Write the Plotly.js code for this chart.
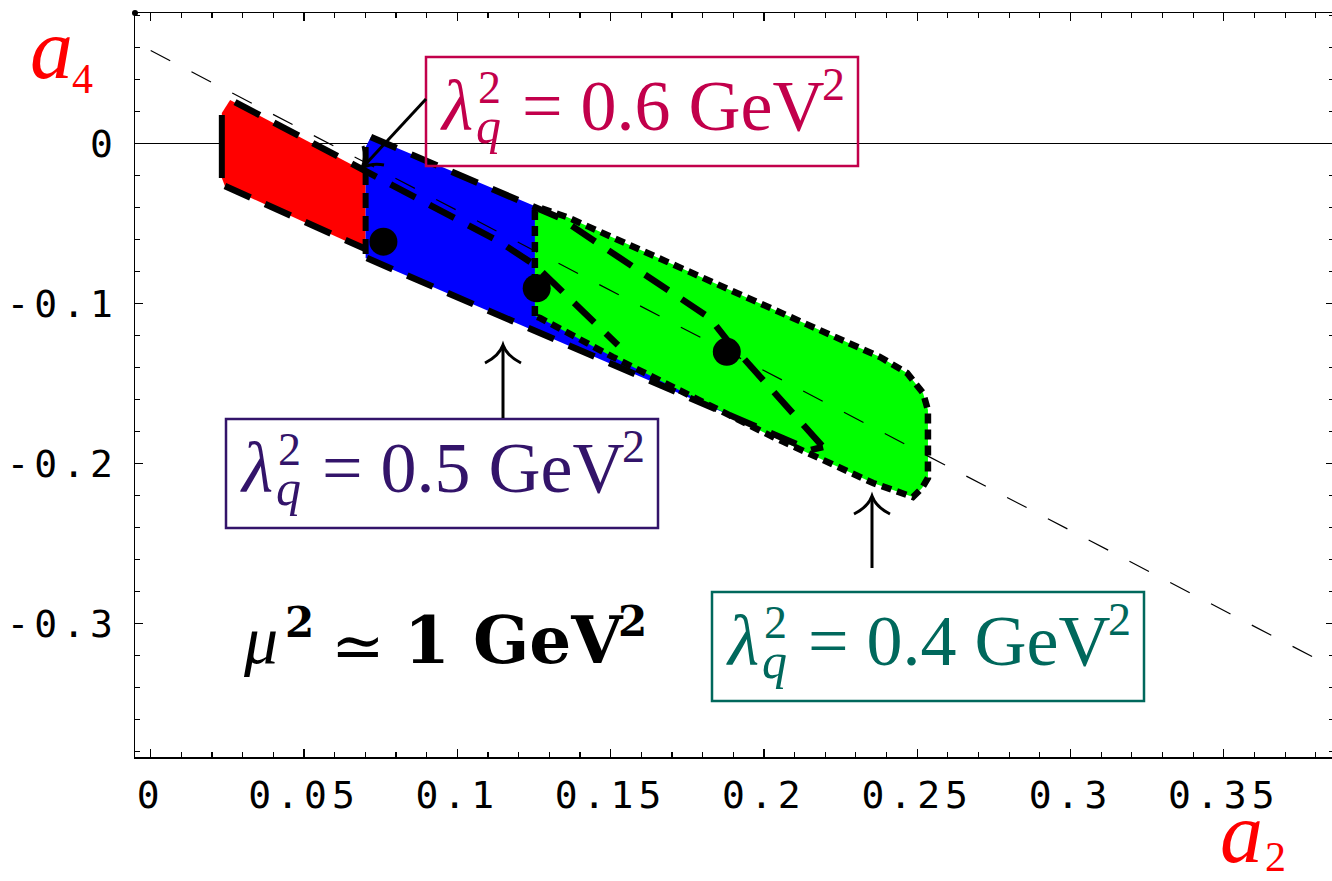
<!DOCTYPE html>
<html><head><meta charset="utf-8">
<script src="https://cdn.plot.ly/plotly-3.0.1.min.js"></script>
<style>
html,body{margin:0;padding:0;overflow:hidden;background:#fff;}
#chart{width:1334px;height:881px;}
.xtick text,.ytick text{letter-spacing:5px;}
</style></head><body><div id="chart"></div>
<script>
// ---- axis ticks ----
const xTickVals=[0,0.05,0.1,0.15,0.2,0.25,0.3,0.35];
const xTickText=['0','0.05','0.1','0.15','0.2','0.25','0.3','0.35'];
const yTickVals=[0,-0.1,-0.2,-0.3];
const yTickText=['0','-0.1','-0.2','-0.3'];

// ---- regions (a2, a4) ----
const redA2=[0.0232,0.0259,0.0701,0.0701,0.0242,0.0232];
const redA4=[0.0189,0.0271,-0.0179,-0.0667,-0.0267,-0.0217];
const redEdgeA2=[0.0232,0.0232];
const redEdgeA4=[0.0177,-0.0217];
const redLowA2=[0.0242,0.0701];
const redLowA4=[-0.0267,-0.0661];
const innerA2=[0.0275,0.0702,0.1139,0.1253,0.1524];
const innerA4=[0.0258,-0.0179,-0.0617,-0.0761,-0.1261];

const blueA2=[0.0701,0.0718,0.1260,0.1335,0.1824,0.1880,0.2193,0.2151,0.0701];
const blueA4=[-0.0023,0.0039,-0.0398,-0.0467,-0.1092,-0.1229,-0.1898,-0.1917,-0.0717];
const blueSideA2=[0.0701,0.0701];
const blueSideA4=[-0.0023,-0.0717];
const upperA2=[0.0718,0.1260,0.1335,0.1824,0.1880,0.2193];
const upperA4=[0.0039,-0.0398,-0.0467,-0.1092,-0.1229,-0.1898];
const lowerA2=[0.0705,0.2151,0.2193];
const lowerA4=[-0.0717,-0.1917,-0.1898];

const greenA2=[0.1253,0.1253,0.1270,0.1358,0.2379,0.2467,0.2519,0.2535,0.2535,0.2516,0.2486,0.2356,0.2030,0.1508,0.1270,0.1253];
const greenA4=[-0.1079,-0.0429,-0.0404,-0.0461,-0.1336,-0.1436,-0.1561,-0.1667,-0.2092,-0.2154,-0.2211,-0.2123,-0.1836,-0.1336,-0.1092,-0.1079];

const dotA2=[0.0759,0.1259,0.1879];
const dotA4=[-0.0615,-0.0906,-0.1303];

const refA2=[0,0.386];
const refA4=[0.058,-0.328];

const lambdaVals=['0.6','0.5','0.4'];
const lambdaColors=['#C2004B','#33146A','#00685C'];

// ---- traces ----
function poly(x,y,c){return {x:x,y:y,type:'scatter',mode:'lines',fill:'toself',fillcolor:c,line:{width:0,color:c},hoverinfo:'skip',showlegend:false};}
function outl(x,y,w,dash){return {x:x,y:y,type:'scatter',mode:'lines',line:{color:'#000',width:w,dash:dash},hoverinfo:'skip',showlegend:false};}
const LONG='28px,16px', MED='15px,8px', DOT='10px,6px';
const data=[
  poly(redA2,redA4,'#FF0000'),
  poly(blueA2,blueA4,'#0000FF'),
  poly(greenA2,greenA4,'#00FF00'),
  outl(refA2,refA4,1.2,'22px,24px'),
  outl(redEdgeA2,redEdgeA4,6,'solid'),
  outl(redLowA2,redLowA4,6.5,LONG),
  outl(innerA2,innerA4,6.5,LONG),
  outl(blueSideA2,blueSideA4,6,MED),
  outl(upperA2,upperA4,6.5,LONG),
  outl(lowerA2,lowerA4,6.5,LONG),
  outl(greenA2,greenA4,6.5,DOT),
  {x:dotA2,y:dotA4,type:'scatter',mode:'markers',marker:{color:'#000',size:28,line:{width:0}},hoverinfo:'skip',showlegend:false}
];

// ---- layout helpers (pixel placement of decorations) ----
function P(px,py){return [(px-135)/1199,(757-py)/744];}
const SERIF='"Liberation Serif", "Times New Roman", Times, serif';
const DVS='"DejaVu Serif", serif';
function txt(s,left,base,size,color,fam,desc){
  const p=P(left,base+desc*size);
  return {xref:'paper',yref:'paper',x:p[0],y:p[1],xanchor:'left',yanchor:'bottom',text:s,showarrow:false,borderpad:0,borderwidth:0,font:{family:fam,size:size,color:color}};
}
function pp(px,py){const p=P(px,py);return p[0]+','+p[1];}

const ann=[], shapes=[];
// axis labels
ann.push(txt('<i>a</i>',30,78,86,'#FF0000',SERIF,0.216));
ann.push(txt('4',72,93,42,'#FF0000',SERIF,0.216));
ann.push(txt('<i>a</i>',1220,862,86,'#FF0000',SERIF,0.216));
ann.push(txt('2',1265,871,42,'#FF0000',SERIF,0.216));

// lambda boxes
const boxOff=[[0,0],[-200,362],[286,535]];
for(let i=0;i<3;i++){
  const dx=boxOff[i][0], dy=boxOff[i][1], c=lambdaColors[i];
  ann.push(txt('<i>λ</i>',440+dx,130+dy,72,c,SERIF,0.216));
  ann.push(txt('2',478+dx,103+dy,46,c,SERIF,0.216));
  ann.push(txt('<i>q</i>',476+dx,143+dy,50,c,SERIF,0.216));
  ann.push(txt('= '+lambdaVals[i]+' GeV',522+dx,130+dy,72,c,SERIF,0.216));
  ann.push(txt('2',822+dx,100+dy,46,c,SERIF,0.216));
  const a=P(426+dx,57+dy), b=P(858+dx,166+dy);
  shapes.push({type:'rect',xref:'paper',yref:'paper',x0:a[0],y0:a[1],x1:b[0],y1:b[1],line:{color:c,width:2.5},fillcolor:'rgba(0,0,0,0)'});
}
// mu label
ann.push(txt('<i>μ</i>',243,663,68,'#000',SERIF,0.216));
ann.push(txt('<b>2</b>',285,637,42,'#000',DVS,0.236));
ann.push(txt('≃',331,668,64,'#000',DVS,0.236));
ann.push(txt('<b>1 GeV</b>',404,663,66,'#000',DVS,0.236));
ann.push(txt('<b>2</b>',618,636,42,'#000',DVS,0.236));

// arrows
function line(x0,y0,x1,y1,w){const a=P(x0,y0),b=P(x1,y1);return {type:'line',xref:'paper',yref:'paper',x0:a[0],y0:a[1],x1:b[0],y1:b[1],line:{color:'#000',width:w}};}
function path(d,w){return {type:'path',xref:'paper',yref:'paper',path:d,line:{color:'#000',width:w},fillcolor:'rgba(0,0,0,0)'};}
shapes.push(line(426,99,363,167,3));
shapes.push(path('M'+pp(384,165)+' Q'+pp(372,162.6)+' '+pp(362,168)+' Q'+pp(366.6,157)+' '+pp(363,146),3));
shapes.push(line(503,418,503,347,3));
shapes.push(path('M'+pp(485,363)+' Q'+pp(499,356)+' '+pp(503,345)+' Q'+pp(507,356)+' '+pp(521,363),3));
shapes.push(line(872,568,872,498,3));
shapes.push(path('M'+pp(854,514)+' Q'+pp(868,507)+' '+pp(872,496)+' Q'+pp(876,507)+' '+pp(890,514),3));
// corner dot
const c0=P(132,10), c1=P(138,16);
shapes.push({type:'circle',xref:'paper',yref:'paper',x0:c0[0],y0:c1[1],x1:c1[0],y1:c0[1],fillcolor:'#000',line:{width:0}});

const tickFont={family:'"DejaVu Sans Mono", monospace',size:38,color:'#000'};
const layout={
  width:1334,height:881,margin:{l:135,r:0,t:13,b:124},
  paper_bgcolor:'#fff',plot_bgcolor:'#fff',showlegend:false,
  xaxis:{range:[-0.00512,0.38594],tickmode:'array',tickvals:xTickVals,ticktext:xTickText,
    ticks:'inside',ticklen:8,tickwidth:1.3,tickcolor:'#000',showline:true,linecolor:'#000',linewidth:1.5,
    mirror:'ticks',showgrid:false,zeroline:false,tickfont:tickFont,ticklabelstandoff:4,
    minor:{tickmode:'linear',tick0:0,dtick:0.01,ticks:'inside',ticklen:5,tickwidth:1.2,tickcolor:'#000',showgrid:false}},
  yaxis:{range:[-0.38356,0.08144],tickmode:'array',tickvals:yTickVals,ticktext:yTickText,
    ticks:'inside',ticklen:8,tickwidth:1.3,tickcolor:'#000',showline:true,linecolor:'#000',linewidth:1.5,
    mirror:'ticks',showgrid:false,zeroline:true,zerolinecolor:'#000',zerolinewidth:1.3,tickfont:tickFont,ticklabelstandoff:8,
    minor:{tickmode:'linear',tick0:0,dtick:0.02,ticks:'inside',ticklen:5,tickwidth:1.2,tickcolor:'#000',showgrid:false}},
  annotations:ann,shapes:shapes
};
Plotly.newPlot('chart',data,layout,{staticPlot:true,displayModeBar:false});
</script></body></html>
